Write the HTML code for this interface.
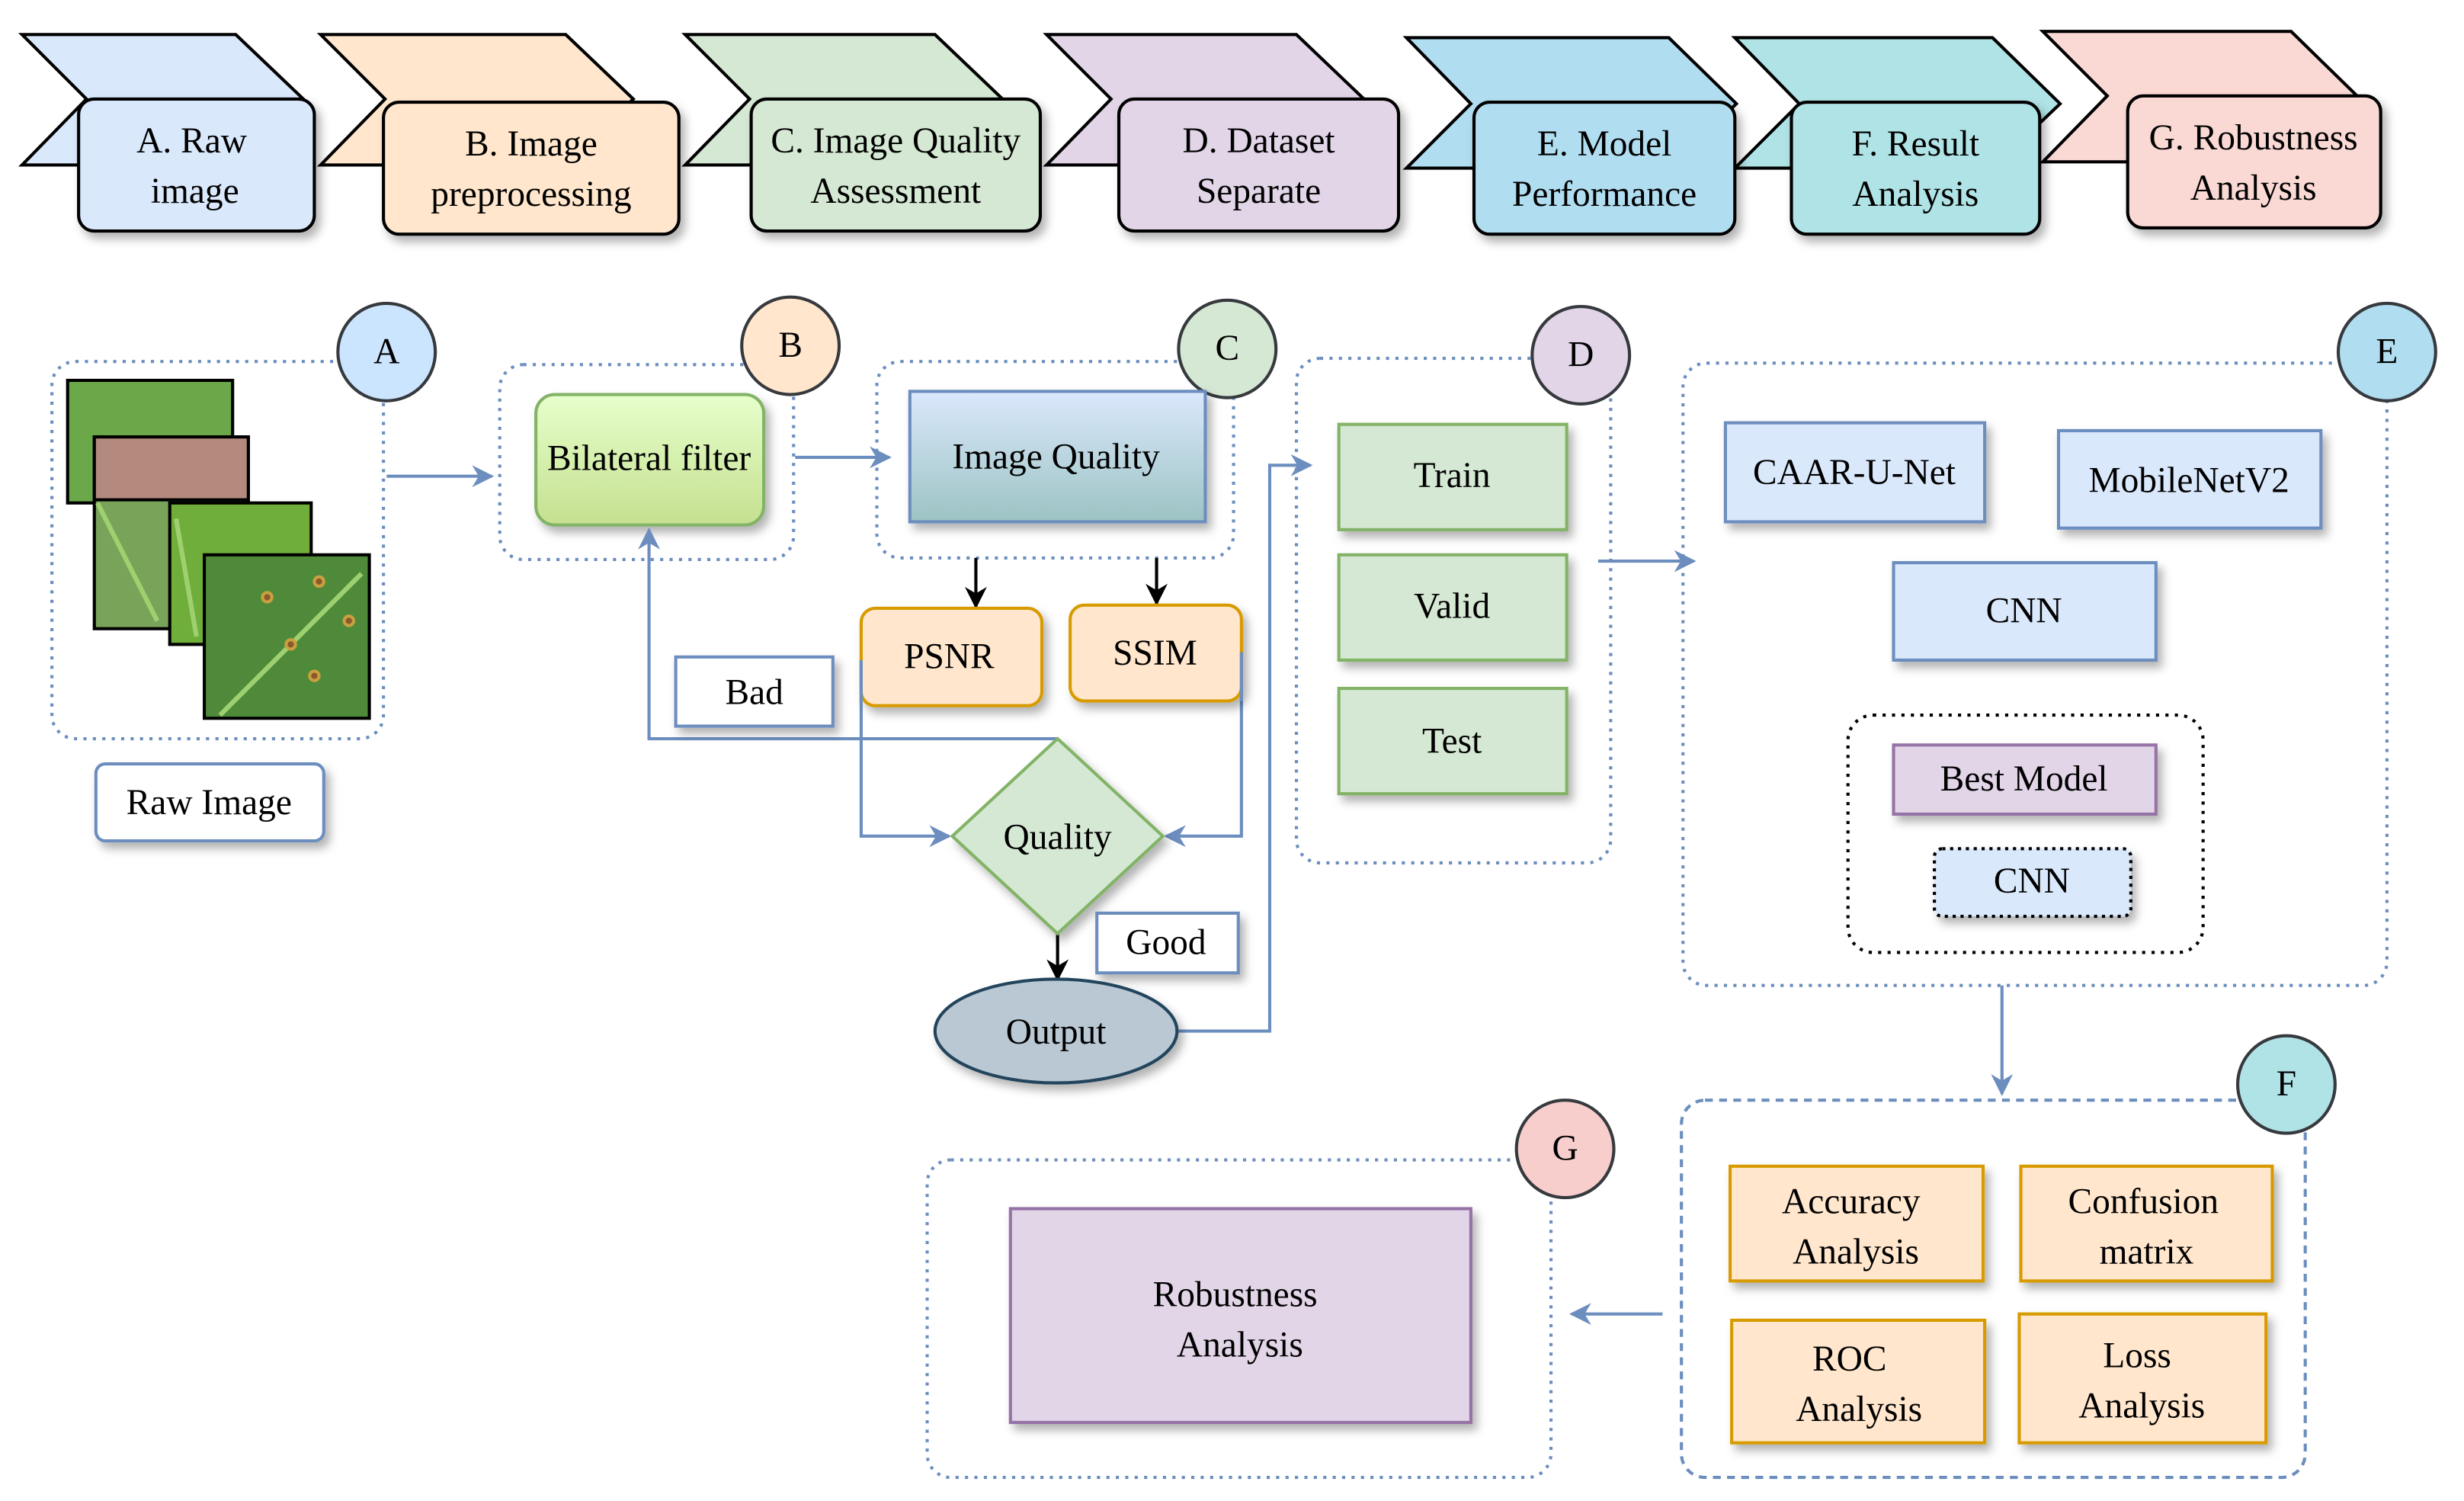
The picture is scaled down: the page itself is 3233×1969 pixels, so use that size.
<!DOCTYPE html>
<html><head><meta charset="utf-8"><style>
html,body{margin:0;padding:0;background:#fff;}
svg{display:block;}
text{font-family:"Liberation Serif",serif;font-size:23px;fill:#000;text-anchor:middle;}
</style></head><body>
<svg width="3233" height="1969" viewBox="0 0 1568 955" xmlns="http://www.w3.org/2000/svg">
<defs>
<filter id="sh" x="-20%" y="-20%" width="150%" height="160%"><feDropShadow dx="3" dy="4" stdDeviation="3" flood-color="#000" flood-opacity="0.3"/></filter>
<linearGradient id="gb" x1="0" y1="0" x2="0" y2="1"><stop offset="0" stop-color="#e6ffcc"/><stop offset="1" stop-color="#c5e08f"/></linearGradient>
<linearGradient id="gi" x1="0" y1="0" x2="0" y2="1"><stop offset="0" stop-color="#dae8fc"/><stop offset="1" stop-color="#9cc3c3"/></linearGradient>
<marker id="ab" viewBox="0 0 10 10" refX="9" refY="5" markerWidth="7" markerHeight="7" orient="auto"><path d="M0,0 L10,5 L0,10 L3,5 z" fill="#6c8ebf"/></marker>
<marker id="ak" viewBox="0 0 10 10" refX="9" refY="5" markerWidth="7" markerHeight="7" orient="auto"><path d="M0,0 L10,5 L0,10 L3,5 z" fill="#000"/></marker>
</defs>

<!-- top chevrons -->
<g stroke="#000" stroke-width="2">
<polygon points="14,22 150,22 193,63 150,105 14,105 55,63" fill="#dae8fc"/>
<polygon points="204,22 360,22 403,63 360,105 204,105 245,63" fill="#ffe6cc"/>
<polygon points="436,22 595,22 638,63 595,105 436,105 477,63" fill="#d5e8d4"/>
<polygon points="666,22 825,22 868,63 825,105 666,105 707,63" fill="#e1d5e7"/>
<polygon points="895,24 1062,24 1105,66 1062,107 895,107 936,66" fill="#b1ddf0"/>
<polygon points="1104,24 1268,24 1311,66 1268,107 1104,107 1145,66" fill="#b0e3e6"/>
<polygon points="1300,20 1458,20 1500,61 1458,103 1300,103 1341,61" fill="#fad9d5"/>
</g>
<g stroke="#000" stroke-width="2" filter="url(#sh)">
<rect x="50" y="63" width="150" height="84" rx="10" fill="#dae8fc"/>
<rect x="244" y="65" width="188" height="84" rx="10" fill="#ffe6cc"/>
<rect x="478" y="63" width="184" height="84" rx="10" fill="#d5e8d4"/>
<rect x="712" y="63" width="178" height="84" rx="10" fill="#e1d5e7"/>
<rect x="938" y="65" width="166" height="84" rx="10" fill="#b1ddf0"/>
<rect x="1140" y="65" width="158" height="84" rx="10" fill="#b0e3e6"/>
<rect x="1354" y="61" width="161" height="84" rx="10" fill="#fad9d5"/>
</g>
<text x="122" y="97">A. Raw</text><text x="124" y="129">image</text>
<text x="338" y="99">B. Image</text><text x="338" y="131">preprocessing</text>
<text x="570" y="97">C. Image Quality</text><text x="570" y="129">Assessment</text>
<text x="801" y="97">D. Dataset</text><text x="801" y="129">Separate</text>
<text x="1021" y="99">E. Model</text><text x="1021" y="131">Performance</text>
<text x="1219" y="99">F. Result</text><text x="1219" y="131">Analysis</text>
<text x="1434" y="95">G. Robustness</text><text x="1434" y="127">Analysis</text>

<!-- dotted containers -->
<g fill="none" stroke="#6c8ebf" stroke-width="2" stroke-dasharray="2,4">
<rect x="33" y="230" width="211" height="240" rx="15"/>
<rect x="318" y="232" width="187" height="124" rx="15"/>
<rect x="558" y="230" width="227" height="125" rx="15"/>
<rect x="825" y="228" width="200" height="321" rx="15"/>
<rect x="1071" y="231" width="448" height="396" rx="15"/>
<rect x="590" y="738" width="397" height="202" rx="15"/>
</g>
<rect x="1070" y="700" width="397" height="240" rx="15" fill="none" stroke="#6c8ebf" stroke-width="2" stroke-dasharray="5,4"/>

<!-- circles -->
<g stroke="#36393d" stroke-width="2">
<circle cx="246" cy="224" r="31" fill="#cce5ff"/>
<circle cx="503" cy="220" r="31" fill="#ffe6cc"/>
<circle cx="781" cy="222" r="31" fill="#d5e8d4"/>
<circle cx="1006" cy="226" r="31" fill="#e1d5e7"/>
<circle cx="1519" cy="224" r="31" fill="#b1ddf0"/>
<circle cx="1455" cy="690" r="31" fill="#b0e3e6"/>
<circle cx="996" cy="731" r="31" fill="#f8cecc"/>
</g>
<text x="246" y="231">A</text><text x="503" y="227">B</text><text x="781" y="229">C</text><text x="1006" y="233">D</text><text x="1519" y="231">E</text><text x="1455" y="697">F</text><text x="996" y="738">G</text>

<!-- images -->
<g stroke="#000" stroke-width="2">
<rect x="43" y="242" width="105" height="78" fill="#6aa84a"/>
<rect x="60" y="278" width="98" height="122" fill="#7aa35a"/>
<rect x="60" y="278" width="98" height="40" fill="#b58a7e"/>
<rect x="108" y="320" width="90" height="90" fill="#6fae3a"/>
<rect x="130" y="353" width="105" height="104" fill="#4e8a3a"/>
</g>
<g stroke="#9fd070" stroke-width="3">
<line x1="62" y1="320" x2="100" y2="395"/><line x1="112" y1="330" x2="125" y2="405"/><line x1="140" y1="455" x2="230" y2="365"/>
</g>
<g stroke="#c8a040" stroke-width="2" fill="#8a5a2a">
<circle cx="170" cy="380" r="3"/><circle cx="203" cy="370" r="3"/><circle cx="185" cy="410" r="3"/><circle cx="222" cy="395" r="3"/><circle cx="200" cy="430" r="3"/>
</g>
<rect x="61" y="486" width="145" height="49" rx="6" fill="#fff" stroke="#6c8ebf" stroke-width="2" filter="url(#sh)"/>
<text x="133" y="518">Raw Image</text>

<!-- B, C -->
<rect x="341" y="251" width="145" height="83" rx="12" fill="url(#gb)" stroke="#82b366" stroke-width="2" filter="url(#sh)"/>
<text x="413" y="299">Bilateral filter</text>
<rect x="579" y="249" width="188" height="83" fill="url(#gi)" stroke="#6c8ebf" stroke-width="2" filter="url(#sh)"/>
<text x="672" y="298">Image Quality</text>
<g stroke="#6c8ebf" stroke-width="2" fill="none">
<line x1="246" y1="303" x2="313" y2="303" marker-end="url(#ab)"/>
<line x1="506" y1="291" x2="566" y2="291" marker-end="url(#ab)"/>
<polyline points="673,470 413,470 413,337" marker-end="url(#ab)"/>
<polyline points="548,420 548,532 604,532" marker-end="url(#ab)"/>
<polyline points="790,415 790,532 742,532" marker-end="url(#ab)"/>
<polyline points="750,656 808,656 808,296 834,296" marker-end="url(#ab)"/>
<line x1="1017" y1="357" x2="1078" y2="357" marker-end="url(#ab)"/>
<line x1="1274" y1="627" x2="1274" y2="696" marker-end="url(#ab)"/>
<line x1="1058" y1="836" x2="1000" y2="836" marker-end="url(#ab)"/>
</g>
<g stroke="#000" stroke-width="2">
<line x1="621" y1="355" x2="621" y2="386" marker-end="url(#ak)"/>
<line x1="736" y1="355" x2="736" y2="384" marker-end="url(#ak)"/>
<line x1="673" y1="594" x2="673" y2="623" marker-end="url(#ak)"/>
</g>
<g fill="#ffe6cc" stroke="#d79b00" stroke-width="2" filter="url(#sh)">
<rect x="548" y="387" width="115" height="62" rx="9"/>
<rect x="681" y="385" width="109" height="61" rx="9"/>
</g>
<line x1="548" y1="420" x2="548" y2="449" stroke="#6c8ebf" stroke-width="2"/>
<line x1="790" y1="415" x2="790" y2="446" stroke="#6c8ebf" stroke-width="2"/>
<text x="604" y="425">PSNR</text><text x="735" y="423">SSIM</text>
<rect x="430" y="418" width="100" height="44" fill="#fff" stroke="#6c8ebf" stroke-width="2" filter="url(#sh)"/>
<text x="480" y="448">Bad</text>
<polygon points="673,470 740,532 673,594 606,532" fill="#d5e8d4" stroke="#82b366" stroke-width="2" filter="url(#sh)"/>
<text x="673" y="540">Quality</text>
<rect x="698" y="581" width="90" height="38" fill="#fff" stroke="#6c8ebf" stroke-width="2" filter="url(#sh)"/>
<text x="742" y="607">Good</text>
<ellipse cx="672" cy="656" rx="77" ry="33" fill="#bac8d3" stroke="#23445d" stroke-width="2" filter="url(#sh)"/>
<text x="672" y="664">Output</text>

<!-- D -->
<g fill="#d5e8d4" stroke="#82b366" stroke-width="2" filter="url(#sh)">
<rect x="852" y="270" width="145" height="67"/>
<rect x="852" y="353" width="145" height="67"/>
<rect x="852" y="438" width="145" height="67"/>
</g>
<text x="924" y="310">Train</text><text x="924" y="393">Valid</text><text x="924" y="479">Test</text>

<!-- E -->
<g fill="#dae8fc" stroke="#6c8ebf" stroke-width="2" filter="url(#sh)">
<rect x="1098" y="269" width="165" height="63"/>
<rect x="1310" y="274" width="167" height="62"/>
<rect x="1205" y="358" width="167" height="62"/>
</g>
<text x="1180" y="308">CAAR-U-Net</text><text x="1393" y="313">MobileNetV2</text><text x="1288" y="396">CNN</text>
<rect x="1176" y="455" width="226" height="151" rx="16" fill="none" stroke="#000" stroke-width="2" stroke-dasharray="2,4"/>
<rect x="1205" y="474" width="167" height="44" fill="#e1d5e7" stroke="#9673a6" stroke-width="2" filter="url(#sh)"/>
<text x="1288" y="503">Best Model</text>
<rect x="1231" y="540" width="125" height="43" rx="5" fill="#dae8fc" stroke="#000" stroke-width="2" stroke-dasharray="2,3" filter="url(#sh)"/>
<text x="1293" y="568">CNN</text>

<!-- F -->
<g fill="#ffe6cc" stroke="#d79b00" stroke-width="2" filter="url(#sh)">
<rect x="1101" y="742" width="161" height="73"/>
<rect x="1286" y="742" width="160" height="73"/>
<rect x="1102" y="840" width="161" height="78"/>
<rect x="1285" y="836" width="157" height="82"/>
</g>
<text x="1178" y="772">Accuracy</text><text x="1181" y="804">Analysis</text>
<text x="1364" y="772">Confusion</text><text x="1366" y="804">matrix</text>
<text x="1177" y="872">ROC</text><text x="1183" y="904">Analysis</text>
<text x="1360" y="870">Loss</text><text x="1363" y="902">Analysis</text>

<!-- G -->
<rect x="643" y="769" width="293" height="136" fill="#e1d5e7" stroke="#9673a6" stroke-width="2" filter="url(#sh)"/>
<text x="786" y="831">Robustness</text><text x="789" y="863">Analysis</text>
</svg>
</body></html>
